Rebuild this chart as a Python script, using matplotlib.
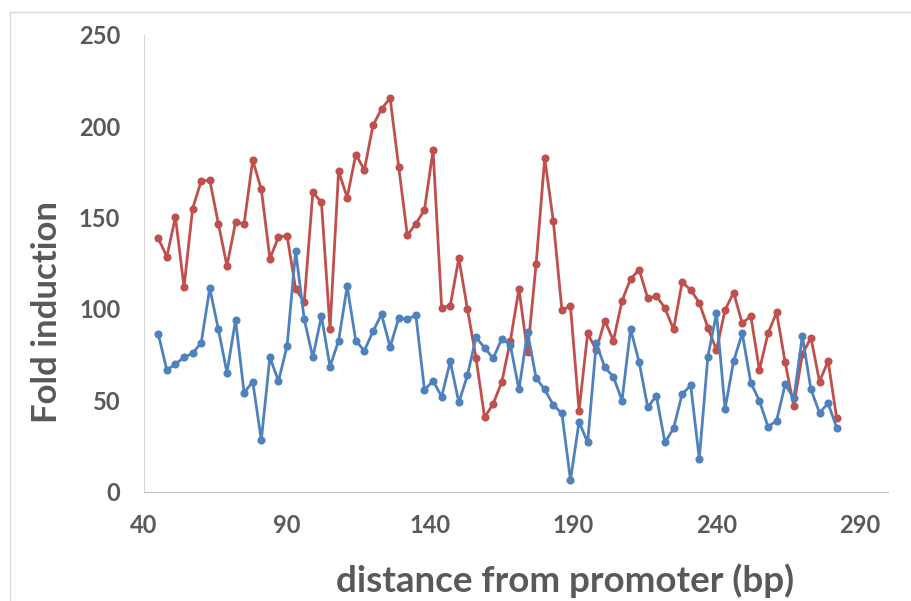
import numpy as np
import matplotlib
matplotlib.use("Agg")
import matplotlib.pyplot as plt
from matplotlib.patches import Rectangle

# distance from promoter, one construct every 3 bp
distance_bp = np.arange(45, 283, 3)

fold_red = [138.6, 128.6, 150.3, 111.8, 154.9, 170.0, 170.4, 146.7, 123.5, 147.3,
            146.7, 181.4, 165.5, 127.5, 139.4, 140.1, 110.9, 103.8, 163.8, 158.4,
            89.2, 175.5, 160.9, 184.5, 176.1, 200.4, 209.5, 215.3, 177.7, 140.3,
            146.7, 154.2, 187.0, 100.7, 101.8, 127.7, 100.0, 73.2, 40.6, 48.1,
            60.0, 82.6, 110.9, 76.2, 124.6, 182.5, 148.1, 99.4, 101.6, 44.3,
            86.6, 77.5, 93.6, 82.6, 104.4, 116.4, 121.5, 105.8, 107.1, 100.5,
            88.8, 114.6, 110.4, 103.4, 89.7, 77.5, 99.4, 108.9, 92.1, 96.1,
            66.5, 86.6, 98.1, 70.7, 46.8, 75.1, 84.3, 60.2, 71.5, 40.1]

fold_blue = [86.3, 66.6, 69.8, 73.5, 75.7, 81.5, 111.3, 88.8, 65.1, 93.9,
             54.1, 60.2, 28.2, 73.5, 60.5, 79.7, 131.7, 94.3, 73.5, 96.1,
             68.4, 82.6, 112.4, 82.6, 77.1, 87.7, 97.0, 79.1, 95.0, 94.4,
             96.5, 55.6, 60.7, 51.9, 71.3, 48.8, 63.6, 84.4, 78.8, 72.9,
             83.7, 80.2, 55.9, 87.2, 62.1, 55.9, 47.4, 42.8, 6.3, 38.2,
             26.9, 81.2, 68.0, 62.9, 49.8, 89.0, 70.8, 46.1, 52.5, 26.9,
             34.6, 53.4, 58.1, 18.0, 73.9, 97.6, 45.2, 71.5, 86.6, 59.6,
             49.7, 35.5, 38.8, 58.7, 51.0, 85.1, 55.9, 43.2, 48.3, 35.0]

x_ticks = [40, 90, 140, 190, 240, 290]
y_ticks = [0, 50, 100, 150, 200, 250]

plt.rcParams['font.family'] = ['Lato', 'DejaVu Sans']
text_grey = '#595959'

fig = plt.figure(figsize=(9.11, 6.01), dpi=100)
ax = fig.add_axes([0.158, 0.182, 0.817, 0.760])

ax.plot(distance_bp, fold_red, color='#C0504D', lw=2.0, marker='o', ms=4.8)
ax.plot(distance_bp, fold_blue, color='#4F81BD', lw=2.0, marker='o', ms=4.8)

ax.set_xlim(40, 300)
ax.set_ylim(0, 250)
ax.set_xticks(x_ticks)
ax.set_yticks(y_ticks)

for side in ['top', 'right']:
    ax.spines[side].set_visible(False)
ax.spines['left'].set_color('#D9D9D9')
ax.spines['bottom'].set_color('#BFBFBF')
ax.tick_params(length=0, labelsize=17, labelcolor=text_grey)
ax.tick_params(axis='y', pad=17)
ax.tick_params(axis='x', pad=16)
for lbl in ax.get_xticklabels() + ax.get_yticklabels():
    lbl.set_fontweight('bold')

# axis titles placed by hand (the y title sits below the axis middle)
ax.text(0.566, -0.194, 'distance from promoter (bp)', transform=ax.transAxes,
        fontsize=26.5, fontweight='bold', color=text_grey,
        ha='center', va='center')
ax.text(-0.130, 0.393, 'Fold induction', transform=ax.transAxes,
        fontsize=25, fontweight='bold', color=text_grey,
        ha='center', va='center', rotation=90)

# chart area frame
fig.patches.append(Rectangle((0.011, -0.05), 1.1, 1.03, transform=fig.transFigure,
                             fill=False, edgecolor='#D9D9D9', lw=1.0))

fig.savefig('out.png', dpi=100)
